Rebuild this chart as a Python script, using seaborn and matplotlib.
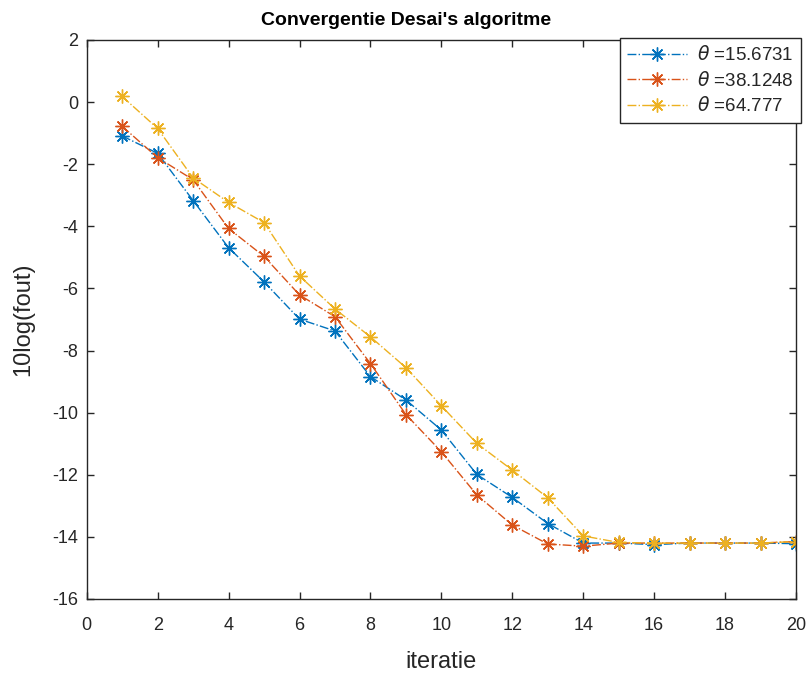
import numpy as np
import pandas as pd
import matplotlib
matplotlib.use("Agg")
import matplotlib.pyplot as plt
import seaborn as sns

# data
iteraties = list(range(1, 21))
theta_labels = ["15.6731", "38.1248", "64.777"]
fout_15 = [-1.09, -1.65, -3.17, -4.69, -5.79, -6.99, -7.37, -8.84, -9.59, -10.56,
           -11.99, -12.73, -13.57, -14.20, -14.20, -14.25, -14.20, -14.20, -14.20, -14.22]
fout_38 = [-0.78, -1.79, -2.50, -4.07, -4.97, -6.21, -6.91, -8.42, -10.06, -11.26,
           -12.65, -13.62, -14.23, -14.30, -14.20, -14.20, -14.20, -14.20, -14.20, -14.15]
fout_64 = [0.18, -0.85, -2.44, -3.23, -3.88, -5.60, -6.66, -7.56, -8.55, -9.78,
           -10.99, -11.85, -12.74, -13.97, -14.18, -14.20, -14.20, -14.20, -14.20, -14.15]
kleuren = ["#0072BD", "#D95319", "#EDB120"]

sns.set_style("ticks")
plt.rcParams['font.family'] = ['Liberation Sans', 'DejaVu Sans']
plt.rcParams['mathtext.fontset'] = 'dejavusans'
plt.rcParams['axes.unicode_minus'] = False

fig = plt.figure(figsize=(8.12, 6.73), dpi=100)
ax = fig.add_axes([0.1068, 0.110, 0.8735, 0.8306])

reeksen = [fout_15, fout_38, fout_64]
for waarden, lab, kleur in zip(reeksen, theta_labels, kleuren):
    df = pd.DataFrame({"iteratie": iteraties, "fout": waarden})
    sns.lineplot(data=df, x="iteratie", y="fout", ax=ax, color=kleur,
                 linestyle="-.", linewidth=1.0, marker=(8, 2, 0), markersize=10,
                 markeredgewidth=1.0, markeredgecolor=kleur,
                 label=r"$\theta$ =" + lab)

ax.set_xlim(0, 20)
ax.set_ylim(-16, 2)
ax.set_xticks(np.arange(0, 21, 2))
ax.set_yticks(np.arange(-16, 3, 2))

tekst = "#262626"
for s in ax.spines.values():
    s.set_visible(True)
    s.set_color(tekst)
    s.set_linewidth(1.0)
ax.tick_params(direction="in", length=5, width=1, colors=tekst, labelsize=13,
               top=True, right=True)
ax.tick_params(axis="x", pad=13)
ax.tick_params(axis="y", pad=6)

# titel staat in het origineel iets links van het midden
ax.set_title("Convergentie Desai's algoritme", fontsize=14, fontweight="bold",
             color="black", pad=11, x=0.45)
ax.set_xlabel("iteratie", fontsize=17, color=tekst, labelpad=12)
ax.set_ylabel("10log(fout)", fontsize=17, color=tekst, labelpad=13)

leg = ax.legend(loc="upper right", bbox_to_anchor=(1.007, 1.004), fontsize=13.5,
                frameon=True, fancybox=False, framealpha=1, edgecolor=tekst,
                handlelength=3.2, borderpad=0.4, labelspacing=0.35,
                handletextpad=0.5, borderaxespad=0)
leg.get_frame().set_linewidth(1.0)

fig.savefig("out.png", dpi=100)
